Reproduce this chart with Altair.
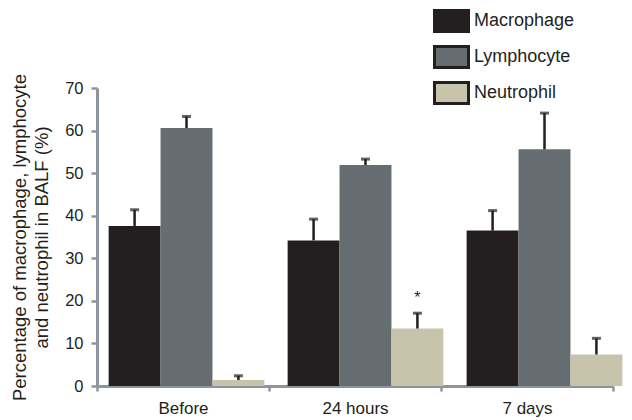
import altair as alt
import pandas as pd

times = ["Before", "24 hours", "7 days"]
cells = ["Macrophage", "Lymphocyte", "Neutrophil"]
macrophage = [37.6, 34.2, 36.5]
macrophage_err = [41.4, 39.2, 41.2]
lymphocyte = [60.6, 51.9, 55.6]
lymphocyte_err = [63.3, 53.3, 64.1]
neutrophil = [1.4, 13.5, 7.4]
neutrophil_err = [2.4, 17.1, 11.2]
neutrophil_star = [False, True, False]
colors = ["#231f20", "#666d70", "#c8c3ab"]
y_ticks = [0, 10, 20, 30, 40, 50, 60, 70]

rows = []
for cell, vals, errs in [("Macrophage", macrophage, macrophage_err),
                         ("Lymphocyte", lymphocyte, lymphocyte_err),
                         ("Neutrophil", neutrophil, neutrophil_err)]:
    for t, v, e in zip(times, vals, errs):
        star = cell == "Neutrophil" and neutrophil_star[times.index(t)]
        rows.append({"time": t, "cell": cell, "value": v, "upper": e,
                     "star": "*" if star else ""})
df = pd.DataFrame(rows)

FONT = "Liberation Sans"
INK = "#231f20"
AXC = "#8d959c"

xb = alt.X("time:N", sort=times,
           scale=alt.Scale(domain=times, range=[0, 537], paddingInner=0.13, paddingOuter=0.065),
           axis=None)
xo = alt.XOffset("cell:N", sort=cells, scale=alt.Scale(domain=cells))

base = alt.Chart(df)

bars = base.mark_bar().encode(
    x=xb, xOffset=xo,
    y=alt.Y("value:Q", scale=alt.Scale(domain=[0, 70], nice=False),
            axis=alt.Axis(values=y_ticks, grid=False,
                          title=["Percentage of macrophage, lymphocyte", "and neutrophil in BALF (%)"],
                          titleFont=FONT, titleFontSize=18.5, titleFontWeight="normal",
                          titleColor=INK, titlePadding=13, titleLineHeight=22,
                          labelFont=FONT, labelFontSize=16.5, labelColor=INK, labelPadding=8,
                          domainColor=AXC, domainWidth=3, tickColor=AXC, tickWidth=2.5, tickSize=6)),
    color=alt.Color("cell:N", sort=cells, scale=alt.Scale(domain=cells, range=colors),
                    legend=alt.Legend(orient="none", legendX=336, legendY=-85.5, title=None,
                                      symbolType="M-1,-0.62L1,-0.62L1,0.62L-1,0.62Z",
                                      symbolSize=1156, symbolStrokeColor=INK, symbolStrokeWidth=3,
                                      labelFont=FONT, labelFontSize=18, labelColor=INK,
                                      labelOffset=4, rowPadding=0, padding=0)),
)

rules = base.mark_rule(color=INK, strokeWidth=2.5).encode(
    x=xb, xOffset=xo, y="value:Q", y2="upper:Q")
caps = base.mark_tick(color=INK, thickness=3, size=9).encode(
    x=xb, xOffset=xo, y="upper:Q")
stars = base.transform_filter(alt.datum.star != "").transform_calculate(
    sy="datum.upper + 2.5").mark_text(font=FONT, fontSize=16, color=INK, baseline="alphabetic").encode(
    x=xb, xOffset=xo, y="sy:Q", text="star:N")

data_layer = alt.layer(bars, rules, caps, stars)

axis_layer = alt.Chart(pd.DataFrame({"time": times})).mark_point(opacity=0).encode(
    x=alt.X("time:N", sort=times,
            scale=alt.Scale(domain=times, paddingInner=0, paddingOuter=0),
            axis=alt.Axis(orient="bottom", title=None, tickBand="extent", labelAngle=0,
                          labelFont=FONT, labelFontSize=17, labelColor=INK, labelPadding=9,
                          domainColor=AXC, domainWidth=3, tickColor=AXC, tickWidth=2.5, tickSize=5)),
    y=alt.value(0),
)

chart = alt.layer(data_layer, axis_layer).resolve_scale(x="independent").properties(
    width=516, height=298,
    autosize=alt.AutoSizeParams(type="none"),
    padding={"left": 89, "top": 80, "right": 10, "bottom": 34},
).configure_view(stroke=None)

chart.save("out.html", embed_options={"renderer": "svg", "actions": False})
